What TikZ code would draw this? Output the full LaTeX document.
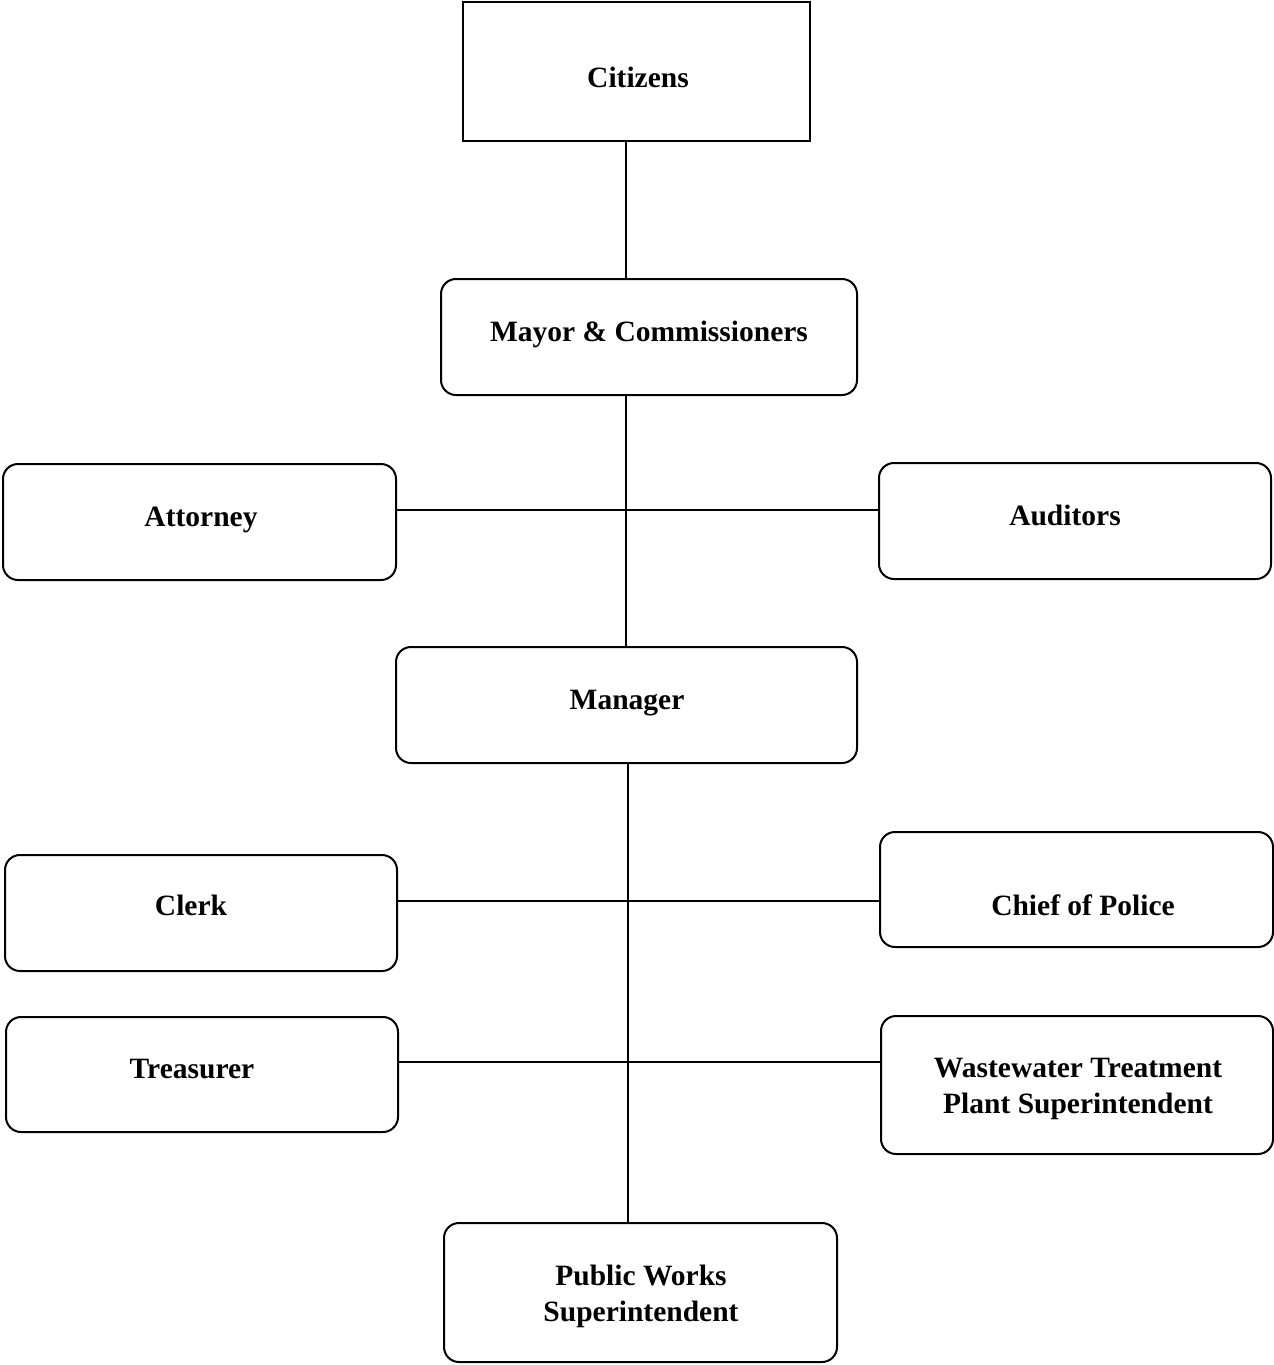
\documentclass[tikz,border=0pt]{standalone}
\usepackage{fontspec}
\setmainfont{Liberation Serif}
\begin{document}
\begin{tikzpicture}[x=1pt,y=-1pt,
  box/.style={draw, line width=2pt, rounded corners=15pt, inner sep=0pt},
  sqbox/.style={draw, line width=1.6pt, inner sep=0pt},
  txt/.style={inner sep=0pt, font=\fontsize{29.5}{36}\selectfont\bfseries, text height=20pt, text depth=0pt},
  txtm/.style={inner sep=0pt, font=\fontsize{29.5}{36}\selectfont\bfseries, align=center},
  conn/.style={line width=2pt}]
\useasboundingbox (0,0) rectangle (1274,1365);
% boxes
\node[sqbox, minimum width=347pt, minimum height=139pt] (cit) at (636.5,71.5) {};
\node[box, minimum width=416pt, minimum height=116pt] (may) at (649,337) {};
\node[box, minimum width=393pt, minimum height=116pt] (att) at (199.5,522) {};
\node[box, minimum width=392pt, minimum height=116pt] (aud) at (1075,521) {};
\node[box, minimum width=461pt, minimum height=116pt] (man) at (626.5,705) {};
\node[box, minimum width=392pt, minimum height=116pt] (clk) at (201,913) {};
\node[box, minimum width=393pt, minimum height=115pt] (cop) at (1076.5,889.5) {};
\node[box, minimum width=392pt, minimum height=115pt] (tre) at (202,1074.5) {};
\node[box, minimum width=392pt, minimum height=138pt] (wwt) at (1077,1085) {};
\node[box, minimum width=393pt, minimum height=139pt] (pw) at (640.5,1292.5) {};
% texts
\node[txt] (tcit) at (638,77) {Citizens};
\node[txt] (tmay) at (649,331) {Mayor \& Commissioners};
\node[txt] (tatt) at (201,516) {Attorney};
\node[txt] (taud) at (1065,515) {Auditors};
\node[txt] (tman) at (627,699) {Manager};
\node[txt] (tclk) at (191,905) {Clerk};
\node[txt] (tcop) at (1083,905) {Chief of Police};
\node[txt] (ttre) at (192,1068) {Treasurer};
\node[txtm] (twwt) at (1078,1089) {Wastewater Treatment\\Plant Superintendent};
\node[txtm] (tpw) at (641,1296) {Public Works\\Superintendent};
% connectors
\draw[conn] (626,0 |- cit.south) -- (626,0 |- may.north);
\draw[conn] (626,0 |- may.south) -- (626,0 |- man.north);
\draw[conn] (att.east |- 0,510) -- (aud.west |- 0,510);
\draw[conn] (628,0 |- man.south) -- (628,0 |- pw.north);
\draw[conn] (clk.east |- 0,901) -- (cop.west |- 0,901);
\draw[conn] (tre.east |- 0,1062) -- (wwt.west |- 0,1062);
\end{tikzpicture}
\end{document}
